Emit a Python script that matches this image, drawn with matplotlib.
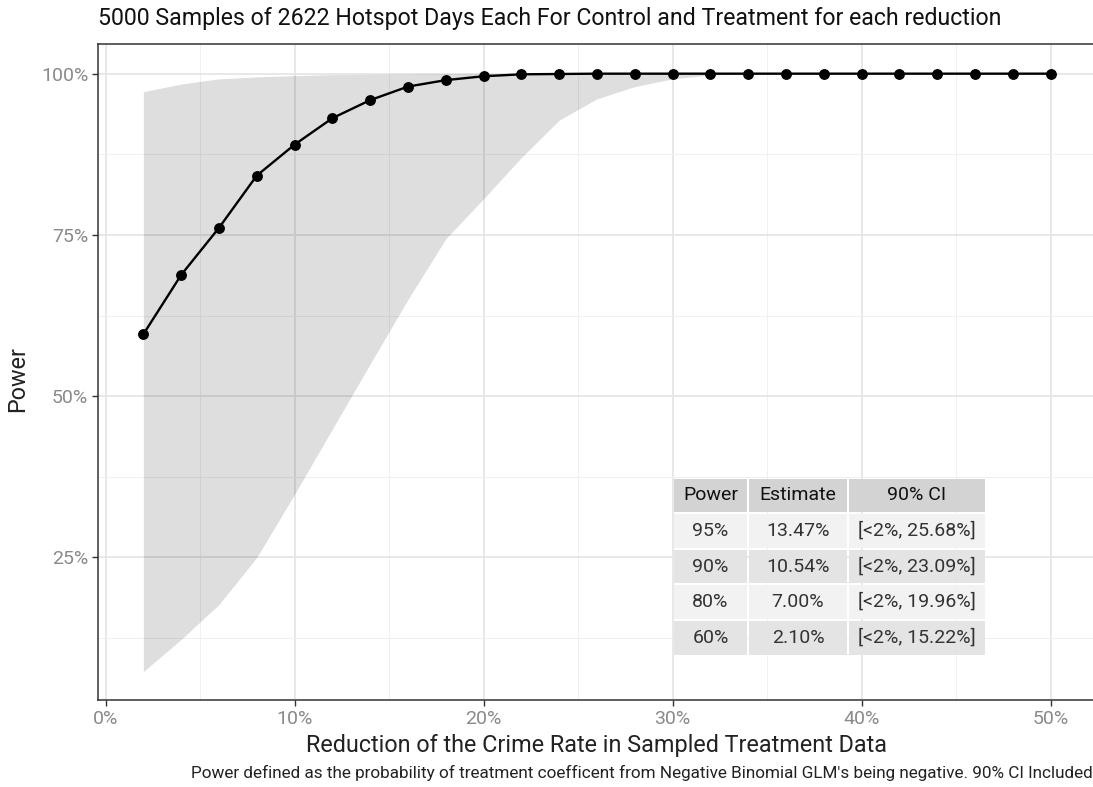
import matplotlib
matplotlib.use("Agg")
import matplotlib.pyplot as plt
from matplotlib.ticker import FixedLocator, FuncFormatter

plt.rcParams['font.family'] = ['Roboto', 'DejaVu Sans']

reduction = [2, 4, 6, 8, 10, 12, 14, 16, 18, 20, 22, 24, 26, 28, 30, 32, 34, 36, 38, 40, 42, 44, 46, 48, 50]
power = [59.6, 68.8, 76.1, 84.2, 89.0, 93.1, 95.9, 98.0, 99.0, 99.6, 99.9, 99.95, 100, 100, 100, 100, 100, 100, 100, 100, 100, 100, 100, 100, 100]
ci_low = [7.3, 12.3, 17.7, 25.0, 34.8, 44.9, 55.0, 65.0, 74.4, 80.6, 87.0, 92.8, 96.1, 98.0, 99.2, 99.8, 100, 100, 100, 100, 100, 100, 100, 100, 100]
ci_high = [97.2, 98.4, 99.2, 99.5, 99.7, 99.85, 99.9, 99.95, 100, 100, 100, 100, 100, 100, 100, 100, 100, 100, 100, 100, 100, 100, 100, 100, 100]

table_cols = ["Power", "Estimate", "90% CI"]
table_power = ["95%", "90%", "80%", "60%"]
table_est = ["13.47%", "10.54%", "7.00%", "2.10%"]
table_ci = ["[<2%, 25.68%]", "[<2%, 23.09%]", "[<2%, 19.96%]", "[<2%, 15.22%]"]

W, H = 1093, 787
fig = plt.figure(figsize=(W / 100, H / 100), dpi=100)
ax = fig.add_axes([98 / W, 1 - 700 / H, (1096 - 98) / W, (700 - 44) / H])

ax.fill_between(reduction, ci_low, ci_high, color='black', alpha=0.13, linewidth=0, zorder=2)
ax.plot(reduction, power, color='black', linewidth=1.7, zorder=3)
ax.plot(reduction, power, 'o', color='black', markersize=6.8, zorder=4)

ax.set_xlim(-0.4, 52.4)
ax.set_ylim(2.9, 104.6)
ax.xaxis.set_major_locator(FixedLocator([0, 10, 20, 30, 40, 50]))
ax.xaxis.set_minor_locator(FixedLocator([5, 15, 25, 35, 45]))
ax.yaxis.set_major_locator(FixedLocator([25, 50, 75, 100]))
ax.yaxis.set_minor_locator(FixedLocator([12.5, 37.5, 62.5, 87.5]))
pct = FuncFormatter(lambda v, p: f"{v:.0f}%")
ax.xaxis.set_major_formatter(pct)
ax.yaxis.set_major_formatter(pct)
ax.grid(which='major', color='#e6e6e6', linewidth=1.3, zorder=1)
ax.grid(which='minor', color='#f0f0f0', linewidth=0.7, zorder=1)
ax.set_axisbelow(True)
ax.tick_params(which='major', direction='out', length=4, width=1, color='#333333',
               labelcolor='#8a8a8a', labelsize=14, pad=3)
ax.tick_params(which='minor', length=0)
for s in ax.spines.values():
    s.set_color('#333333')
    s.set_linewidth(1.1)

ax.set_xlabel("Reduction of the Crime Rate in Sampled Treatment Data", fontsize=16.8, color='#222222')
ax.xaxis.set_label_coords(0.5, -0.052)
ax.set_ylabel("Power", fontsize=16.8, color='#222222')
ax.yaxis.set_label_coords(-0.069, 0.49)
fig.text(98 / W, 1 - 19 / H, "5000 Samples of 2622 Hotspot Days Each For Control and Treatment for each reduction",
         fontsize=16.7, color='#111111', ha='left', va='center')
fig.text(1093 / W, 1 - 773 / H,
         "Power defined as the probability of treatment coefficent from Negative Binomial GLM's being negative. 90% CI Included",
         fontsize=12.3, color='#222222', ha='right', va='center')

# table
col_edges = [673, 748, 848, 986]
row_edges = [478, 513, 549, 584, 620, 656]
rows = [table_cols] + [list(r) for r in zip(table_power, table_est, table_ci)]
for i, row in enumerate(rows):
    y0, y1 = row_edges[i], row_edges[i + 1]
    if i == 0:
        fc = '#d3d3d3'
    elif i % 2 == 1:
        fc = '#f2f2f2'
    else:
        fc = '#e4e4e4'
    for j, txt in enumerate(row):
        x0, x1 = col_edges[j], col_edges[j + 1]
        rect = plt.Rectangle((x0 / W + 1 / W, 1 - (y1 - 1) / H), (x1 - x0 - 2) / W, (y1 - y0 - 2) / H,
                             transform=fig.transFigure, facecolor=fc, edgecolor='none', zorder=5)
        fig.patches.append(rect)
        fig.text((x0 + x1) / 2 / W, 1 - (y0 + y1) / 2 / H, txt, ha='center', va='center',
                 fontsize=14, color='#111111' if i == 0 else '#333333', zorder=6)

fig.savefig("out.png", dpi=100)
